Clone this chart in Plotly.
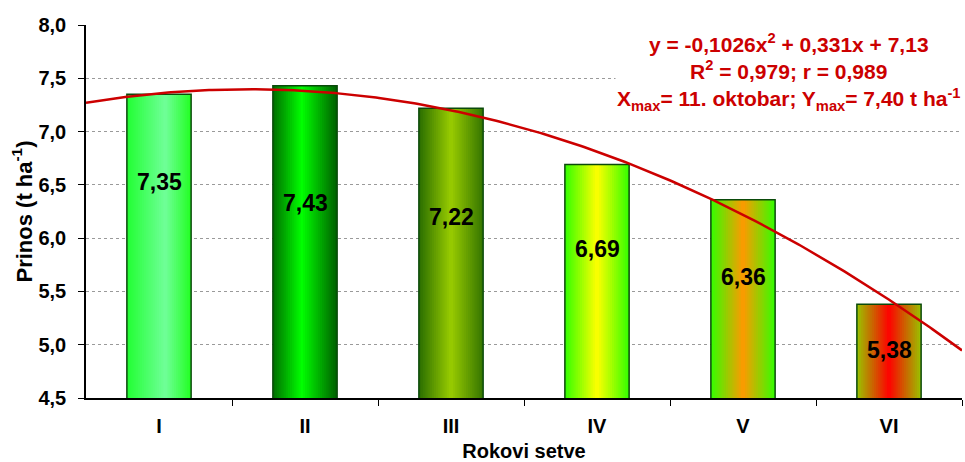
import numpy as np
import plotly.graph_objects as go

# ---- data ----
categories = ["I", "II", "III", "IV", "V", "VI"]
yields = [7.35, 7.43, 7.22, 6.69, 6.36, 5.38]
value_labels = ["7,35", "7,43", "7,22", "6,69", "6,36", "5,38"]
label_y = [6.53, 6.33, 6.20, 5.90, 5.64, 4.95]   # label anchor heights (data units)
trend_a, trend_b, trend_c = -0.1026, 0.331, 7.13   # polynomial trendline from the chart
y_ticks = [4.5, 5.0, 5.5, 6.0, 6.5, 7.0, 7.5, 8.0]

# ---- style ----
FONT = "Liberation Sans, Arial, sans-serif"
gradients = [
    [(0.0, "#22FF33"), (0.6, "#70FF99"), (1.0, "#22FF22")],
    [(0.0, "#006E00"), (0.45, "#00FF00"), (1.0, "#005E00")],
    [(0.0, "#2A6E00"), (0.5, "#99CC00"), (1.0, "#357500")],
    [(0.0, "#33FF00"), (0.5, "#FFFF00"), (1.0, "#33FF00")],
    [(0.0, "#33FF00"), (0.5, "#FF9900"), (1.0, "#33FF00")],
    [(0.0, "#99C400"), (0.5, "#FF0000"), (1.0, "#99C400")],
]
BAR_W = 0.44
N_SLICES = 30


def hex2rgb(h):
    h = h.lstrip("#")
    return np.array([int(h[i:i + 2], 16) for i in (0, 2, 4)], dtype=float)


def interp(stops, t):
    for (p0, c0), (p1, c1) in zip(stops[:-1], stops[1:]):
        if p0 <= t <= p1:
            f = (t - p0) / (p1 - p0) if p1 > p0 else 0
            c = hex2rgb(c0) * (1 - f) + hex2rgb(c1) * f
            return "rgb(%d,%d,%d)" % tuple(np.round(c))
    return stops[-1][1]


xs = list(range(1, len(categories) + 1))
fig = go.Figure()

step = BAR_W / N_SLICES
for k in range(N_SLICES):
    off = -BAR_W / 2 + k * step
    w = min(step * 1.6, BAR_W / 2 - off)
    t = (k + 0.5) / N_SLICES
    fig.add_trace(go.Bar(
        x=xs, y=yields, offset=off, width=w,
        marker=dict(color=[interp(g, t) for g in gradients], line=dict(width=0)),
        showlegend=False, hoverinfo="skip",
    ))

# outline
fig.add_trace(go.Bar(
    x=xs, y=yields, offset=-BAR_W / 2, width=BAR_W,
    marker=dict(color="rgba(0,0,0,0)", line=dict(color="#0A4A0A", width=1.5)),
    showlegend=False,
))

# trendline
xc = np.linspace(0.5, 6.5, 300)
yc = trend_a * xc ** 2 + trend_b * xc + trend_c
fig.add_trace(go.Scatter(x=xc, y=yc, mode="lines",
                         line=dict(color="#CC0000", width=2.5), showlegend=False))

for x, y, t in zip(xs, label_y, value_labels):
    fig.add_annotation(x=x, y=y, text=t, showarrow=False,
                       font=dict(family=FONT, size=23, color="black", weight="bold"))

fig.add_annotation(
    xref="paper", yref="paper", x=1.0, y=0.993, xanchor="right", yanchor="top",
    text=("y = -0,1026x<sup>2</sup> + 0,331x + 7,13<br>"
          "R<sup>2</sup> = 0,979; r = 0,989<br>"
          "X<sub>max</sub>= 11. oktobar; Y<sub>max</sub>= 7,40 t ha<sup>-1</sup>"),
    showarrow=False, align="center", bgcolor="white", borderpad=1,
    font=dict(family=FONT, size=21, color="#CC0000", weight="bold"),
)

fig.update_layout(
    width=965, height=462,
    margin=dict(l=86, r=3, t=25, b=64),
    barmode="overlay",
    plot_bgcolor="white", paper_bgcolor="white",
    separators=", ",
    font=dict(family=FONT, color="black"),
    xaxis=dict(
        range=[0.5, 6.5], tickmode="array", tickvals=xs, ticktext=categories,
        ticks="", showgrid=False, zeroline=False,
        showline=True, linecolor="black", linewidth=1.5,
        tickfont=dict(family=FONT, size=20, weight="bold"),
        ticklabelstandoff=9,
        minor=dict(tickmode="array", tickvals=[1.5, 2.5, 3.5, 4.5, 5.5, 6.5],
                   ticks="outside", ticklen=6, tickcolor="black", tickwidth=1,
                   showgrid=False),
        title=dict(text="Rokovi setve", standoff=8,
                   font=dict(family=FONT, size=20, weight="bold")),
    ),
    yaxis=dict(
        range=[4.5, 8.0], tickmode="array", tickvals=y_ticks, tickformat=".1f",
        ticks="outside", ticklen=6, tickcolor="black",
        showline=True, linecolor="black", linewidth=1.5,
        showgrid=True, gridcolor="#9A9A9A", griddash="dot", gridwidth=1,
        zeroline=False,
        tickfont=dict(family=FONT, size=20, weight="bold"),
        ticklabelstandoff=8,
        title=dict(text="Prinos (t ha<sup>-1</sup>)", standoff=0,
                   font=dict(family=FONT, size=22, weight="bold")),
    ),
)

fig.write_html("out.html")
